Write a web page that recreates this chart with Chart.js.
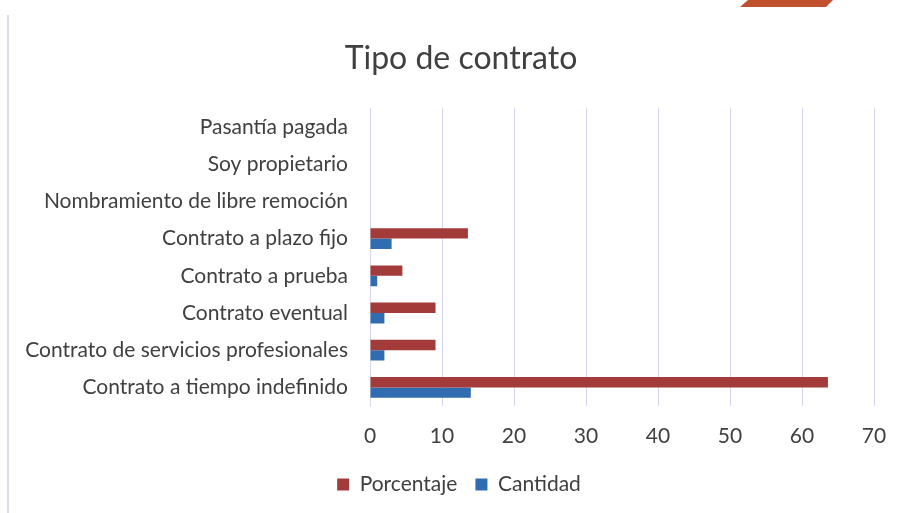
<!DOCTYPE html>
<html>
<head>
<meta charset="utf-8">
<script src="https://cdn.jsdelivr.net/npm/chart.js@4"></script>
<style>
  html, body { margin: 0; padding: 0; background: #ffffff; }
  #wrap { width: 900px; height: 513px; }
</style>
</head>
<body>
<div id="wrap"><canvas id="contratoChart" width="900" height="513"></canvas></div>
<script>
// Categories, top to bottom as shown
var categorias = [
    'Pasantía pagada',
    'Soy propietario',
    'Nombramiento de libre remoción',
    'Contrato a plazo fijo',
    'Contrato a prueba',
    'Contrato eventual',
    'Contrato de servicios profesionales',
    'Contrato a tiempo indefinido'
];
var porcentaje = [ 0, 0, 0, 13.6, 4.5, 9.1, 9.1, 63.6 ];
var cantidad = [ 0, 0, 0, 3, 1, 2, 2, 14 ];
var ticksX = [ 0, 10, 20, 30, 40, 50, 60, 70 ];

var textColor = '#404040';
var gridColor = '#d6d6ee';
var fontFamily = 'Lato, "Open Sans", sans-serif';

// slide decorations: left frame line and red tab at top right
var slideFrame = {
    id: 'slideFrame',
    afterLayout: function ( chart )
    {
        // title and legend sit a bit right of the canvas centre in the original
        chart.legend.left += 22;
        chart.legend.right += 22;
        chart.titleBlock.left += 24;
        chart.titleBlock.right += 24;
    },
    beforeDraw: function ( chart )
    {
        var ctx = chart.ctx;
        ctx.save();
        ctx.fillStyle = '#ffffff';
        ctx.fillRect( 0, 0, chart.width, chart.height );
        ctx.strokeStyle = '#dcdcf0';
        ctx.lineWidth = 2;
        ctx.beginPath();
        ctx.moveTo( 8, 15 );
        ctx.lineTo( 8, chart.height );
        ctx.stroke();
        ctx.fillStyle = '#c0502e';
        ctx.beginPath();
        ctx.moveTo( 748, 0 );
        ctx.lineTo( 833, 0 );
        ctx.lineTo( 826, 7 );
        ctx.lineTo( 740, 7 );
        ctx.closePath();
        ctx.fill();
        ctx.restore();
    }
};

var ctx = document.getElementById( 'contratoChart' ).getContext( '2d' );
var contratoChart = new Chart( ctx, {
    type: 'bar',
    data: {
        labels: categorias,
        datasets: [
            {
                label: 'Porcentaje',
                data: porcentaje,
                backgroundColor: '#a33b3b',
                borderWidth: 0,
                categoryPercentage: 0.56,
                barPercentage: 1.0
            },
            {
                label: 'Cantidad',
                data: cantidad,
                backgroundColor: '#2f6db0',
                borderWidth: 0,
                categoryPercentage: 0.56,
                barPercentage: 1.0
            }
        ]
    },
    options: {
        indexAxis: 'y',
        responsive: false,
        animation: false,
        layout: {
            padding: { left: 0, right: 26, top: 0, bottom: 8 }
        },
        plugins: {
            title: {
                display: true,
                text: 'Tipo de contrato',
                color: textColor,
                font: { family: fontFamily, size: 32, weight: 'normal' },
                padding: { top: 39, bottom: 31 }
            },
            legend: {
                position: 'bottom',
                labels: {
                    color: textColor,
                    font: { family: fontFamily, size: 21 },
                    boxWidth: 12,
                    boxHeight: 12,
                    padding: 18
                }
            },
            tooltip: { enabled: false }
        },
        scales: {
            x: {
                min: 0,
                max: 70,
                afterBuildTicks: function ( scale )
                {
                    scale.ticks = ticksX.map( function ( v ) { return { value: v }; } );
                },
                afterFit: function ( scale )
                {
                    scale.height = 50;
                    scale.paddingRight = 0;
                },
                grid: { color: gridColor, lineWidth: 1, drawTicks: false },
                border: { display: false },
                ticks: {
                    color: textColor,
                    font: { family: fontFamily, size: 21 },
                    padding: 18
                }
            },
            y: {
                afterFit: function ( scale ) { scale.width = 370; },
                grid: { display: false, drawTicks: false },
                border: { display: true, color: gridColor },
                ticks: {
                    color: textColor,
                    font: { family: fontFamily, size: 21 },
                    padding: 22,
                    autoSkip: false
                }
            }
        }
    },
    plugins: [ slideFrame ]
} );
</script>
</body>
</html>
